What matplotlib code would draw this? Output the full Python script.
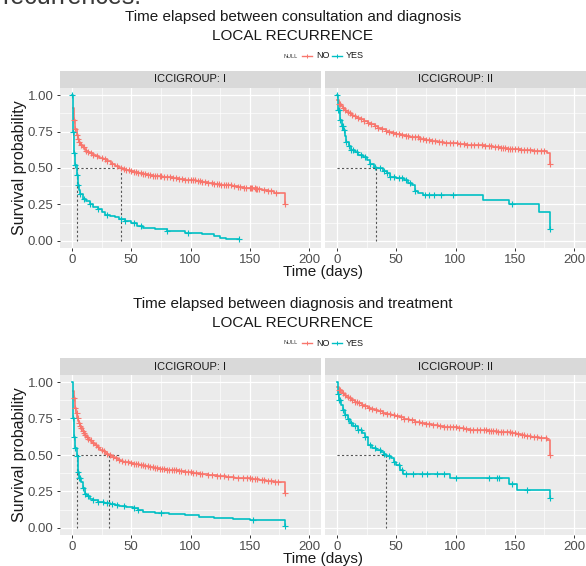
import numpy as np
import matplotlib
matplotlib.use('Agg')
import matplotlib.pyplot as plt

plt.rcParams['font.family'] = ['Liberation Sans', 'DejaVu Sans']

# ---------- data ----------
TITLES = ['Time elapsed between consultation and diagnosis',
          'Time elapsed between diagnosis and treatment']
SUBTITLE = 'LOCAL RECURRENCE'
GROUPS = ['ICCIGROUP: I', 'ICCIGROUP: II']
STRATA = ['NO', 'YES']
X_TICKS = [0, 50, 100, 150, 200]
Y_TICKS = [0.00, 0.25, 0.50, 0.75, 1.00]

# consultation -> diagnosis, group I
c1_no_t = [1, 2, 3, 4, 5, 6, 7, 8, 9, 10.5, 12, 13.5, 15, 17.5, 20, 23, 26, 29.5, 33,
           36.5, 40, 43, 46, 49, 52, 56, 60, 64, 68, 72, 76, 80, 85, 90, 95, 100, 105,
           110, 115, 120, 125, 130, 135, 140, 145, 150, 155, 160, 165, 170, 179.5]
c1_no_s = [0.91, 0.83, 0.77, 0.73, 0.70, 0.68, 0.665, 0.655, 0.645, 0.633, 0.62, 0.61,
           0.60, 0.59, 0.58, 0.57, 0.56, 0.545, 0.53, 0.515, 0.50, 0.49, 0.485, 0.48,
           0.475, 0.467, 0.46, 0.452, 0.445, 0.442, 0.44, 0.435, 0.43, 0.425, 0.42,
           0.415, 0.41, 0.405, 0.40, 0.392, 0.385, 0.38, 0.375, 0.37, 0.365, 0.36, 0.355,
           0.35, 0.345, 0.33, 0.25]
c1_no_cens = [2, 3, 4, 5, 6, 8, 10, 12, 14, 16, 18, 21, 25, 28, 30, 34, 38, 41, 44, 46,
              48, 50, 52, 54, 56, 58, 60, 62, 64, 66, 68, 70, 72, 74, 75, 78, 80, 83, 85,
              88, 90, 93, 95, 98, 100, 102, 104, 106, 108, 110, 112, 115, 118, 120, 122,
              124, 126, 128, 130, 132, 134, 137, 140, 142, 145, 147, 150, 151, 152, 154,
              155, 156, 158, 162, 165, 168, 172, 179.5]
c1_yes_t = [0, 1, 2, 3, 4, 5, 6, 7, 9, 12, 15, 18, 22, 25, 28, 32, 36, 40, 45, 50, 55,
            60, 70, 80, 95, 110, 120, 125, 130, 141]
c1_yes_s = [1.00, 0.75, 0.60, 0.52, 0.45, 0.38, 0.35, 0.32, 0.29, 0.27, 0.25, 0.235,
            0.215, 0.20, 0.18, 0.17, 0.16, 0.15, 0.135, 0.12, 0.10, 0.09, 0.078, 0.065,
            0.055, 0.045, 0.035, 0.02, 0.01, 0.01]
c1_yes_cens = [0.5, 1, 2, 3, 4, 5, 7, 10, 15, 22, 30, 41, 45, 52, 58, 80, 98, 141]

# consultation -> diagnosis, group II
c2_no_t = [0.5, 2, 3.5, 5, 6.5, 8, 10, 12, 14, 16, 18, 20, 23, 26, 29, 32, 35, 38, 41,
           44, 47, 50, 54, 58, 62, 66, 70, 75, 80, 85, 90, 95, 102, 110, 118, 125, 132,
           138, 144, 150, 155, 160, 165, 170, 177, 179.5]
c2_no_s = [0.97, 0.94, 0.925, 0.91, 0.897, 0.885, 0.875, 0.865, 0.857, 0.85, 0.842,
           0.835, 0.822, 0.81, 0.80, 0.79, 0.777, 0.765, 0.757, 0.75, 0.742, 0.735,
           0.727, 0.72, 0.715, 0.71, 0.702, 0.695, 0.687, 0.68, 0.675, 0.67, 0.665, 0.66,
           0.655, 0.65, 0.643, 0.637, 0.633, 0.63, 0.627, 0.625, 0.62, 0.615, 0.60, 0.53]
c2_no_cens = [2, 3, 5, 7, 9, 11, 13, 15, 18, 20, 23, 26, 29, 32, 35, 38, 41, 44, 47, 50,
              52, 55, 58, 60, 63, 66, 68, 70, 73, 75, 78, 80, 83, 86, 89, 92, 95, 98,
              101, 104, 107, 110, 113, 116, 119, 122, 125, 128, 130, 133, 136, 138, 140,
              142, 144, 146, 148, 150, 153, 155, 158, 160, 163, 166, 169, 172, 175, 179.5]
c2_yes_t = [0, 1, 2.5, 4, 5.5, 7, 8, 10, 12, 15, 18, 22, 25, 28, 31, 33, 39, 42, 44.5,
            50, 57, 60, 63, 65.5, 68, 72.5, 123, 145, 170.5, 179.5]
c2_yes_s = [1.00, 0.90, 0.83, 0.79, 0.76, 0.72, 0.68, 0.65, 0.626, 0.61, 0.59, 0.575,
            0.557, 0.53, 0.51, 0.50, 0.48, 0.466, 0.436, 0.43, 0.42, 0.40, 0.386, 0.34,
            0.33, 0.317, 0.283, 0.25, 0.20, 0.078]
c2_yes_cens = [0.5, 1, 2, 3, 4, 5, 6, 8, 10, 12, 14, 17, 20, 24, 28, 32, 36, 40, 42, 45,
               48, 52, 55, 58, 62, 66, 74, 78, 82, 88, 98, 148, 179.5]

# diagnosis -> treatment, group I
d1_no_t = [1, 1.7, 2.3, 3, 3.7, 4.5, 5.2, 6, 7, 8, 9, 10, 11, 12, 13.5, 15, 16.5, 18,
           19.5, 21, 22.5, 24, 26, 28, 29.5, 31, 33.5, 36, 38.5, 41, 43.5, 46, 49, 52,
           54.5, 57, 61, 65, 69, 74, 80, 85, 90, 95, 102, 108, 115, 122, 130, 137, 145,
           151, 158, 164, 170, 179.5]
d1_no_s = [0.94, 0.89, 0.855, 0.82, 0.787, 0.755, 0.737, 0.72, 0.702, 0.685, 0.667,
           0.65, 0.638, 0.627, 0.613, 0.60, 0.59, 0.58, 0.567, 0.555, 0.545, 0.535, 0.525,
           0.515, 0.507, 0.50, 0.488, 0.477, 0.468, 0.46, 0.455, 0.45, 0.445, 0.44,
           0.435, 0.43, 0.425, 0.42, 0.413, 0.407, 0.40, 0.395, 0.387, 0.38, 0.373,
           0.366, 0.36, 0.355, 0.35, 0.345, 0.34, 0.333, 0.326, 0.32, 0.315, 0.24]
d1_no_cens = [2, 3, 4, 5, 6, 7, 8, 9, 10, 11, 13, 14, 16, 18, 20, 22, 25, 27, 30, 32,
              35, 37, 40, 42, 45, 47, 50, 52, 54, 56, 58, 60, 62, 64, 66, 68, 70, 72, 74,
              76, 78, 80, 82, 84, 86, 88, 90, 92, 95, 98, 100, 102, 105, 108, 110, 115,
              118, 122, 125, 128, 132, 136, 140, 144, 148, 150, 152, 154, 156, 160, 162,
              165, 168, 171, 174, 179.5]
d1_yes_t = [0, 1, 2, 3, 4, 5, 6, 7.3, 9, 11, 13, 15, 18, 22, 27, 32, 36, 40, 46, 51.5,
            56, 60, 70, 82, 95, 107.5, 120, 135.5, 150, 179.5]
d1_yes_s = [1.00, 0.755, 0.627, 0.55, 0.49, 0.384, 0.34, 0.315, 0.27, 0.234, 0.215, 0.20,
            0.19, 0.18, 0.17, 0.164, 0.155, 0.146, 0.14, 0.137, 0.12, 0.106, 0.10, 0.095,
            0.085, 0.072, 0.065, 0.06, 0.053, 0.014]
d1_yes_cens = [1, 2, 3, 4, 5, 6, 7, 9, 11, 14, 18, 22, 26, 30, 34, 38, 44, 52, 56, 75,
               153, 179.5]

# diagnosis -> treatment, group II
d2_no_t = [0.5, 2, 4, 6, 8, 10, 12, 15, 18, 21, 23.5, 26, 29, 32, 35, 38.5, 42, 45.5,
           49, 53, 57, 61, 65.5, 70, 75, 80, 85, 90, 95, 102, 107, 112, 117, 121.5, 128,
           135, 141, 147, 151, 155, 159, 163.5, 170, 177.5, 179.5]
d2_no_s = [0.967, 0.95, 0.928, 0.914, 0.90, 0.89, 0.88, 0.867, 0.855, 0.845, 0.836,
           0.826, 0.815, 0.808, 0.80, 0.79, 0.78, 0.773, 0.766, 0.758, 0.75, 0.74, 0.73,
           0.722, 0.715, 0.707, 0.70, 0.695, 0.69, 0.685, 0.68, 0.675, 0.672, 0.67,
           0.665, 0.66, 0.655, 0.65, 0.645, 0.64, 0.633, 0.627, 0.62, 0.604, 0.50]
d2_no_cens = [2, 3, 5, 7, 9, 11, 13, 15, 17, 19, 21, 24, 27, 30, 33, 36, 39, 42, 45, 48,
              51, 54, 57, 60, 63, 66, 69, 72, 75, 78, 81, 84, 87, 90, 93, 95, 98, 100,
              103, 106, 109, 112, 115, 118, 121, 124, 126, 128, 130, 132, 134, 136, 138,
              140, 143, 146, 148, 150, 153, 156, 158, 160, 163, 166, 169, 172, 176, 179.5]
d2_yes_t = [0, 1, 2, 3.4, 5, 6.7, 9, 11, 14, 18, 21, 23.5, 26, 30, 33, 37, 40, 41.5, 46,
            48, 50, 53, 56, 95, 145, 152, 179.5]
d2_yes_s = [1.00, 0.917, 0.88, 0.847, 0.81, 0.778, 0.75, 0.72, 0.70, 0.674, 0.65, 0.627,
            0.57, 0.55, 0.535, 0.52, 0.505, 0.49, 0.477, 0.45, 0.43, 0.40, 0.366, 0.343,
            0.303, 0.257, 0.204]
d2_yes_cens = [1, 2, 3, 5, 7, 9, 12, 15, 18, 20, 24, 28, 32, 36, 40, 44, 48, 52, 55, 58,
               64, 72, 76, 84, 90, 100, 128, 135, 137, 148, 160, 179.5]

# median reference lines: end of the horizontal segment, vertical positions
c1_median = (41, [4, 41])
c2_median = (33, [33])
d1_median = (40, [4, 31])
d2_median = (41, [41])

COLORS = {'NO': '#F8766D', 'YES': '#00BFC4'}

W, H = 586, 566


def px_axes(fig, x0, y0, x1, y1, **kw):
    """axes from pixel box (top-left origin)"""
    return fig.add_axes([x0 / W, 1 - y1 / H, (x1 - x0) / W, (y1 - y0) / H], **kw)


def step_value(ts, ss, c):
    i = np.searchsorted(ts, c, side='right') - 1
    return ss[max(i, 0)]


def draw_panel(ax, curves, median, first):
    ax.set_facecolor('#EBEBEB')
    ax.set_xlim(-10, 210)
    ax.set_ylim(-0.05, 1.05)
    ax.set_xticks(X_TICKS)
    ax.set_xticks([25, 75, 125, 175], minor=True)
    ax.set_yticks(Y_TICKS)
    ax.set_yticks([0.125, 0.375, 0.625, 0.875], minor=True)
    ax.grid(which='major', color='white', lw=0.9)
    ax.grid(which='minor', color='white', lw=0.45)
    ax.set_axisbelow(True)
    for sp in ax.spines.values():
        sp.set_visible(False)
    ax.tick_params(which='minor', length=0)
    ax.tick_params(which='major', length=2.5, width=0.7, color='#333333',
                   labelsize=9.5, labelcolor='#4D4D4D', pad=2)
    ax.set_xticklabels([str(v) for v in X_TICKS])
    if first:
        ax.set_yticklabels(['%.2f' % v for v in Y_TICKS])
    else:
        ax.tick_params(axis='y', length=0, labelleft=False)

    hend, vxs = median
    ax.plot([0, hend], [0.5, 0.5], color='#555555', lw=0.8, ls=(0, (2, 2)), zorder=2)
    for vx in vxs:
        ax.plot([vx, vx], [0.5, 0], color='#555555', lw=0.8, ls=(0, (2, 2)), zorder=2)

    for name, ts, ss, cens in curves:
        col = COLORS[name]
        ax.plot(ts, ss, drawstyle='steps-post', color=col, lw=1.2, zorder=3)
        cy = [step_value(ts, ss, c) for c in cens]
        ax.plot(cens, cy, ls='none', marker='+', ms=3.8, mew=0.8, color=col, zorder=4)


def draw_block(fig, y_off, title, panel_data):
    fig.text(0.5, 1 - (y_off + 17) / H, title, ha='center', va='center',
             fontsize=11, color='#1A1A1A')
    fig.text(0.5, 1 - (y_off + 36) / H, SUBTITLE, ha='center', va='center',
             fontsize=11, color='#1A1A1A')
    # legend
    ly = 1 - (y_off + 56) / H
    fig.text(291 / W, ly, 'NULL', ha='center', va='center', fontsize=4, color='#333333')
    for name, x0, xt in [('NO', 302, 316), ('YES', 332, 346)]:
        fig.lines.append(plt.Line2D([x0 / W, (x0 + 10) / W], [ly, ly], color=COLORS[name],
                                    lw=1.0, transform=fig.transFigure))
        fig.lines.append(plt.Line2D([(x0 + 5) / W], [ly], color=COLORS[name], marker='+',
                                    ms=3.5, mew=0.7, transform=fig.transFigure))
        fig.text(xt / W, ly, name, ha='left', va='center', fontsize=6.5, color='#1A1A1A')

    strip_top = y_off + 71
    p_top = strip_top + 17
    p_bot = p_top + 160
    boxes = [(60, 321), (325, 586)]
    for k, ((x0, x1), (curves, median)) in enumerate(zip(boxes, panel_data)):
        sax = px_axes(fig, x0, strip_top, x1, p_top)
        sax.set_facecolor('#D9D9D9')
        sax.set_xticks([])
        sax.set_yticks([])
        for sp in sax.spines.values():
            sp.set_visible(False)
        sax.text(0.5, 0.5, GROUPS[k], ha='center', va='center', fontsize=8,
                 color='#1A1A1A', transform=sax.transAxes)
        ax = px_axes(fig, x0, p_top, x1, p_bot)
        draw_panel(ax, curves, median, k == 0)

    fig.text(20 / W, 1 - (p_top + 80) / H, 'Survival probability', rotation=90,
             ha='center', va='center', fontsize=11.5, color='#1A1A1A')
    fig.text(323 / W, 1 - (p_bot + 24) / H, 'Time (days)', ha='center', va='center',
             fontsize=11, color='#1A1A1A')


fig = plt.figure(figsize=(W / 100, H / 100), dpi=100)
fig.patch.set_facecolor('white')

# text line from the page above the chart, cut off at the top as in the source
fig.text(2 / W, 1 - 4.5 / H, 'recurrences.', ha='left', va='baseline', fontsize=18,
         color='#3A3A3A')

top = [
    ([('NO', c1_no_t, c1_no_s, c1_no_cens), ('YES', c1_yes_t, c1_yes_s, c1_yes_cens)], c1_median),
    ([('NO', c2_no_t, c2_no_s, c2_no_cens), ('YES', c2_yes_t, c2_yes_s, c2_yes_cens)], c2_median),
]
bottom = [
    ([('NO', d1_no_t, d1_no_s, d1_no_cens), ('YES', d1_yes_t, d1_yes_s, d1_yes_cens)], d1_median),
    ([('NO', d2_no_t, d2_no_s, d2_no_cens), ('YES', d2_yes_t, d2_yes_s, d2_yes_cens)], d2_median),
]

draw_block(fig, 0, TITLES[0], top)
draw_block(fig, 287, TITLES[1], bottom)

fig.savefig('out.png', dpi=100)
